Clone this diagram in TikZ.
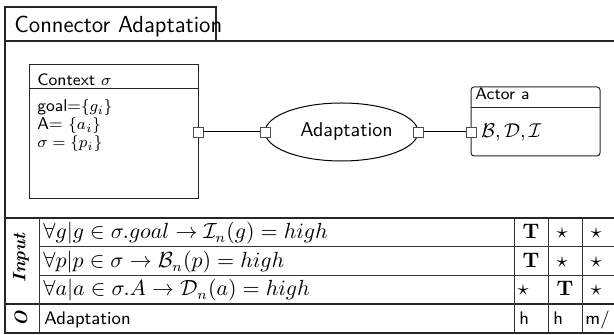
\documentclass[tikz,border=0pt]{standalone}
\usepackage{amsmath,amssymb}
\usetikzlibrary{shapes.geometric}
\begin{document}
\begin{tikzpicture}[x=0.5pt,y=-0.5pt,
  frame/.style={draw=black!85, line width=0.6pt},
  grid/.style={draw=black!80, line width=0.5pt},
  port/.style={draw=black!70, fill=white, minimum size=5pt, inner sep=0pt, line width=0.4pt},
  wire/.style={draw=black, line width=0.5pt},
  lbl/.style={inner sep=0pt, anchor=base west, font=\sffamily\fontsize{8.3}{9.5}\selectfont},
  body/.style={inner sep=0pt, anchor=base west, font=\sffamily\fontsize{8.5}{9.5}\selectfont},
  cell/.style={inner sep=0pt, anchor=base west, font=\fontsize{10.5}{12}\selectfont},
  tick/.style={inner sep=0pt, anchor=base, font=\fontsize{10.5}{12}\selectfont},
  plain/.style={inner sep=0pt, anchor=base west, font=\sffamily\fontsize{9.1}{11}\selectfont},
  side/.style={inner sep=0pt, rotate=90, font=\bfseries\itshape\fontsize{9}{10}\selectfont}
]
\useasboundingbox (0,0) rectangle (614,335);
\clip (0,0) rectangle (614,335);
% frame and title
\draw[frame] (5,7) rectangle (216,41);
\node[inner sep=0pt, anchor=base west, font=\sffamily\fontsize{11.6}{13}\selectfont] (title) at (14,33) {Connector Adaptation};
\draw[frame] (630,41) -- (5,41) -- (5,333) -- (630,333);
% context box
\draw[frame, line width=0.5pt] (29,65) rectangle (198,199);
\draw[frame, line width=0.5pt] (29,89) -- (198,89);
\node[lbl] (ctxlbl) at (37,86) {Context $\sigma$};
\node[body] (goal) at (37,112) {goal=$\{g_i\}$};
\node[body] (acts) at (37,130) {A= $\{a_i\}$};
\node[body] (sig) at (37,148) {$\sigma=\{p_i\}$};
% adaptation
\node[ellipse, draw=black, line width=0.5pt, minimum width=76.5pt, minimum height=29pt, inner sep=0pt] (adapt) at (341.5,132) {};
\node[inner sep=0pt, font=\sffamily\fontsize{10}{12}\selectfont] (adapttxt) at (346.5,132) {Adaptation};
% actor
\draw[frame, line width=0.5pt, rounded corners=1.5pt] (471,87) rectangle (600,156);
\draw[frame, line width=0.5pt] (471,108) -- (600,108);
\node[lbl] (actlbl) at (475,100) {Actor a};
\node[body, font=\fontsize{10}{12}\selectfont] (bdi) at (481,138) {$\mathcal{B},\mathcal{D},\mathcal{I}$};
% ports and wires
\node[port] (pc) at (198,132) {};
\node[port] (pal) at (265,132) {};
\node[port] (par) at (418.5,132) {};
\node[port] (pa) at (471,132) {};
\draw[wire] (pc) -- (pal);
\draw[wire] (par) -- (pa);
% table
\draw[frame] (5,218) -- (630,218);
\draw[grid] (39,247) -- (630,247);
\draw[grid] (39,276) -- (630,276);
\draw[frame] (5,304) -- (630,304);
\draw[grid] (39,218) -- (39,333);
\draw[grid] (514,218) -- (514,333);
\draw[grid] (548,218) -- (548,333);
\draw[grid] (582,218) -- (582,333);
\node[side] (inp) at (21,258) {Input};
\node[side] (outp) at (21,318.5) {O};
\node[cell] (r1) at (43,239) {$\forall g | g\in\sigma.goal\rightarrow\mathcal{I}_n(g)=high$};
\node[cell] (r2) at (43,268) {$\forall p | p\in\sigma\rightarrow\mathcal{B}_n(p)=high$};
\node[cell] (r3) at (43,296) {$\forall a | a\in\sigma.A\rightarrow\mathcal{D}_n(a)=high$};
\node[plain] (r4) at (44,324.5) {Adaptation};
\node[tick] (c11) at (531,239) {\textbf{T}};
\node[tick] (c12) at (562,239) {$\star$};
\node[tick] (c13) at (596,239) {$\star$};
\node[tick] (c21) at (531,268) {\textbf{T}};
\node[tick] (c22) at (562,268) {$\star$};
\node[tick] (c23) at (596,268) {$\star$};
\node[tick] (c31) at (523,296) {$\star$};
\node[tick] (c32) at (565,296) {\textbf{T}};
\node[tick] (c33) at (596,296) {$\star$};
\node[plain] (c41) at (519,324.5) {h};
\node[plain] (c42) at (553,324.5) {h};
\node[plain] (c43) at (585,324.5) {m/};
\end{tikzpicture}
\end{document}
